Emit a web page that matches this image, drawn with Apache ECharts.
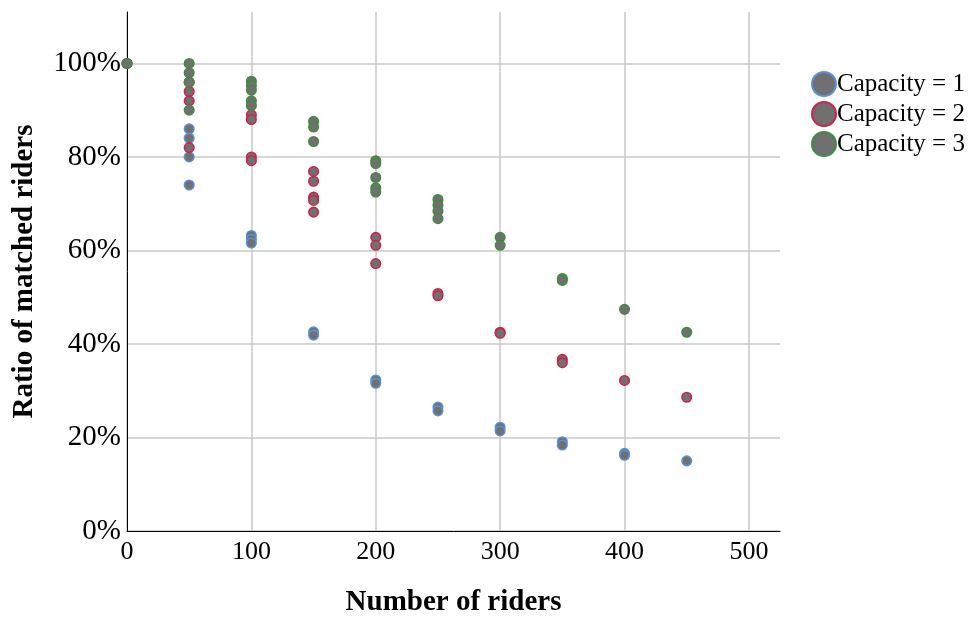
<!DOCTYPE html>
<html>
<head>
<meta charset="utf-8">
<script src="https://cdn.jsdelivr.net/npm/echarts@6/dist/echarts.min.js"></script>
<style>
html,body{margin:0;padding:0;background:#fff;}
#chart{width:975px;height:617px;}
</style>
</head>
<body>
<div id="chart"></div>
<script>
// Series names
const seriesNames = ['Capacity = 1', 'Capacity = 2', 'Capacity = 3'];

// Capacity = 1 (number of riders, ratio of matched riders in %)
const cap1Riders = [0, 50, 50, 50, 50, 100, 100, 100, 150, 150, 200, 200, 250, 250, 300, 300, 350, 350, 400, 400, 450];
const cap1Ratio  = [100, 86, 84, 80, 74, 63.2, 62.4, 61.6, 42.6, 41.9, 32.3, 31.6, 26.5, 25.7, 22.2, 21.4, 19.1, 18.4, 16.6, 16.2, 15.0];

// Capacity = 2
const cap2Riders = [0, 50, 50, 50, 50, 100, 100, 100, 100, 150, 150, 150, 150, 150, 200, 200, 200, 250, 250, 300, 300, 350, 350, 400, 450];
const cap2Ratio  = [100, 96, 94, 92, 82, 89.0, 88.0, 80.0, 79.2, 76.9, 74.8, 71.4, 70.7, 68.2, 62.8, 61.1, 57.2, 50.8, 50.3, 42.5, 42.3, 36.7, 36.0, 32.2, 28.6];

// Capacity = 3
const cap3Riders = [0, 50, 50, 50, 50, 100, 100, 100, 100, 100, 150, 150, 150, 200, 200, 200, 200, 200, 250, 250, 250, 250, 300, 300, 350, 350, 400, 450];
const cap3Ratio  = [100, 100, 98, 96, 90, 96.2, 95.3, 94.3, 92.0, 91.0, 87.6, 86.4, 83.3, 79.2, 78.6, 75.6, 73.4, 72.5, 70.9, 69.7, 68.4, 66.8, 62.8, 61.1, 54.0, 53.6, 47.4, 42.5];

// Axis ticks
const xTicks = [0, 100, 200, 300, 400, 500];
const yTicks = [0, 20, 40, 60, 80, 100];

const borderColors = ['#5b8fd8', '#d2204a', '#3f8c3f'];
const fillColor = '#707070';

function pairs(xs, ys) { return xs.map((x, i) => [x, ys[i]]); }
const allData = [pairs(cap1Riders, cap1Ratio), pairs(cap2Riders, cap2Ratio), pairs(cap3Riders, cap3Ratio)];

const serif = '"Liberation Serif", "Times New Roman", serif';
const grid = '#c8c8c8';

const chart = echarts.init(document.getElementById('chart'));
chart.setOption({
  backgroundColor: '#fff',
  animation: false,
  grid: { left: 127, top: 12, right: 195, bottom: 86, containLabel: false, outerBoundsMode: 'none' },
  legend: {
    orient: 'vertical',
    left: 806,
    top: 66,
    itemWidth: 24,
    itemHeight: 24,
    itemGap: 4,
    icon: 'circle',
    textStyle: { fontFamily: serif, fontSize: 25, color: '#000', padding: [0, 0, 0, -4] },
    data: seriesNames
  },
  xAxis: {
    type: 'value',
    min: 0, max: 525, interval: 100,
    name: 'Number of riders',
    nameLocation: 'middle',
    nameGap: 57,
    nameTextStyle: { fontFamily: serif, fontSize: 29, fontWeight: 'bold', color: '#000' },
    axisLine: { show: true, onZero: false, lineStyle: { color: '#000', width: 1 } },
    axisTick: { show: false },
    axisLabel: {
      fontFamily: serif, fontSize: 26, color: '#000', margin: 8, showMaxLabel: true,
      formatter: v => xTicks.includes(v) ? String(v) : ''
    },
    splitLine: { show: true, lineStyle: { color: [grid, grid, grid, grid, grid, grid, 'rgba(0,0,0,0)'], width: 1.5 } }
  },
  yAxis: {
    type: 'value',
    min: 0, max: 111, interval: 20,
    name: 'Ratio of matched riders',
    nameLocation: 'middle',
    nameGap: 88,
    nameTextStyle: { fontFamily: serif, fontSize: 29, fontWeight: 'bold', color: '#000' },
    axisLine: { show: true, onZero: false, lineStyle: { color: '#000', width: 1 } },
    axisTick: { show: false },
    axisLabel: {
      fontFamily: serif, fontSize: 29, color: '#000', margin: 6,
      formatter: v => yTicks.includes(v) ? v + '%' : ''
    },
    splitLine: { show: true, lineStyle: { color: [grid, grid, grid, grid, grid, grid, 'rgba(0,0,0,0)'], width: 1.5 } }
  },
  series: seriesNames.map((name, i) => ({
    name: name,
    type: 'scatter',
    symbol: 'circle',
    symbolSize: 9.5,
    clip: true,
    data: allData[i],
    itemStyle: { color: fillColor, borderColor: borderColors[i], borderWidth: 1.6, opacity: 1 },
    emphasis: { disabled: true },
    z: 2 + i
  }))
});
</script>
</body>
</html>
